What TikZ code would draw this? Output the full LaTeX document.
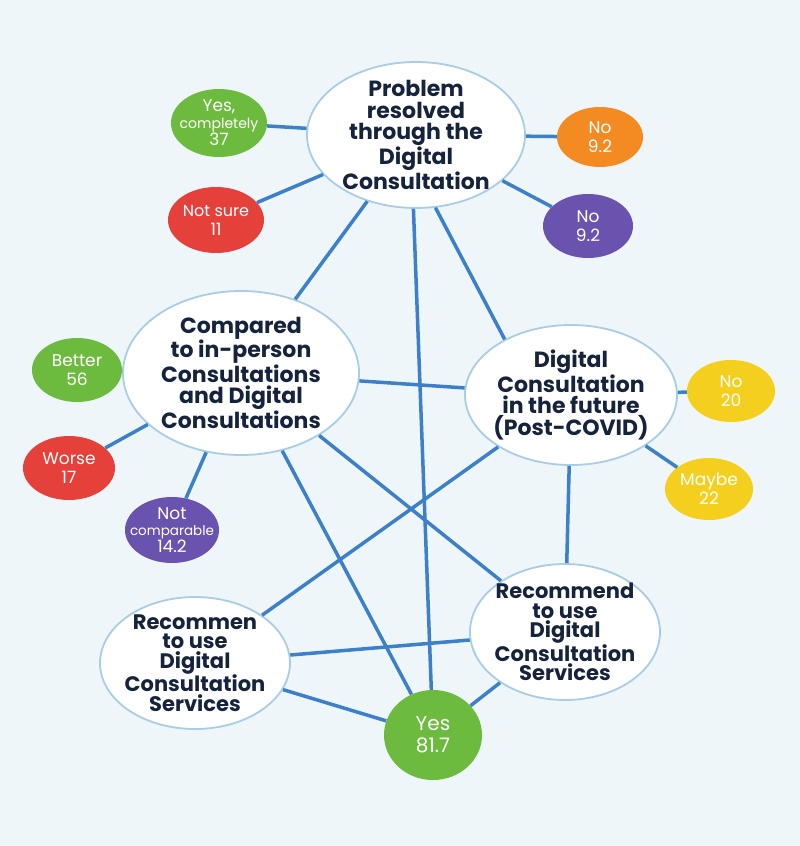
\documentclass[tikz,border=0pt]{standalone}
\usepackage{fontspec}
\setmainfont{Poppins}
\usetikzlibrary{shapes.geometric}
\definecolor{bgblue}{HTML}{EEF6FA}
\definecolor{rimblue}{HTML}{A8CDE6}
\definecolor{linkblue}{HTML}{3C7FCB}
\definecolor{navy}{HTML}{16233D}
\definecolor{ansgreen}{HTML}{6DBB3E}
\definecolor{ansred}{HTML}{E5413A}
\definecolor{ansorange}{HTML}{F48A22}
\definecolor{anspurple}{HTML}{6953AE}
\definecolor{ansyellow}{HTML}{F4CF1E}
\tikzset{
	x=1pt, y=-1pt, % one unit is one pixel of the sketch, y runs down
	topic/.style={ellipse, draw=rimblue, line width=1.8pt, fill=white, text=navy, inner sep=-12pt,
		align=center, font=\fontsize{22}{21.5}\selectfont\bfseries}, % the big white question bubbles
	answer/.style={ellipse, inner sep=-14pt, text=white, align=center,
		font=\fontsize{17}{19}\selectfont}, % the small coloured answer bubbles
	link/.style={draw=linkblue, line width=3.5pt}, % the blue connectors
}
\begin{document}
\begin{tikzpicture}
	\useasboundingbox (0,0) rectangle (800,846);
	\fill[bgblue] (0,0) rectangle (800,846);
	% question bubbles
	\node[topic, minimum width=218pt, minimum height=146pt] at (416,135) (prob) {Problem\\resolved\\through the\\Digital\\Consultation};
	\node[topic, minimum width=236pt, minimum height=164pt] at (241,373) (comp) {Compared\\to in-person\\Consultations\\and Digital\\Consultations};
	\node[topic, minimum width=212pt, minimum height=140pt] at (571,395) (fut) {Digital\\Consultation\\in the future\\(Post-COVID)};
	\node[topic, minimum width=190pt, minimum height=132pt, font=\fontsize{21}{19.5}\selectfont\bfseries] at (195,663) (recl) {Recommen\\to use\\Digital\\Consultation\\Services};
	\node[topic, minimum width=190pt, minimum height=136pt, font=\fontsize{21}{19.5}\selectfont\bfseries] at (565,632) (recr) {Recommend\\to use\\Digital\\Consultation\\Services};
	% answer bubbles
	\node[answer, fill=ansgreen, minimum width=96pt, minimum height=68pt] at (219,123) (yescomp) {Yes,\\[-2pt]{\fontsize{14}{15}\selectfont completely}\\[-2pt]37};
	\node[answer, fill=ansred, minimum width=96pt, minimum height=66pt] at (216,220) (notsure) {{\fontsize{16}{18}\selectfont Not sure}\\11};
	\node[answer, fill=ansorange, minimum width=86pt, minimum height=60pt] at (600,137) (noa) {No\\9.2};
	\node[answer, fill=anspurple, minimum width=90pt, minimum height=64pt] at (588,226) (nob) {No\\9.2};
	\node[answer, fill=ansgreen, minimum width=90pt, minimum height=64pt] at (77,370) (better) {Better\\56};
	\node[answer, fill=ansred, minimum width=92pt, minimum height=64pt] at (69,468) (worse) {Worse\\17};
	\node[answer, fill=anspurple, minimum width=94pt, minimum height=66pt] at (172,530) (notcomp) {Not\\[-3pt]{\fontsize{13.5}{15}\selectfont comparable}\\[-2pt]14.2};
	\node[answer, fill=ansyellow, minimum width=88pt, minimum height=62pt] at (731,391) (noc) {No\\20};
	\node[answer, fill=ansyellow, minimum width=88pt, minimum height=62pt] at (709,489) (maybe) {Maybe\\22};
	\node[answer, fill=ansgreen, minimum width=98pt, minimum height=90pt, font=\fontsize{20}{22}\selectfont] at (433,735) (yes) {Yes\\81.7};
	% connectors
	\draw[link] (prob) edge (yescomp)
		(prob) edge (notsure)
		(prob) edge (noa)
		(prob) edge (nob)
		(prob) edge (comp)
		(prob.268) edge (yes)
		(prob.285) edge (fut.140)
		(comp) edge (better)
		(comp) edge (worse)
		(comp) edge (notcomp)
		(comp) edge (fut)
		(comp) edge (recr)
		(comp) edge (yes)
		(fut) edge (noc)
		(fut) edge (maybe)
		(fut) edge (recl)
		(fut) edge (recr)
		(recl) edge (recr)
		(recl) edge (yes)
		(recr) edge (yes);
\end{tikzpicture}
\end{document}
